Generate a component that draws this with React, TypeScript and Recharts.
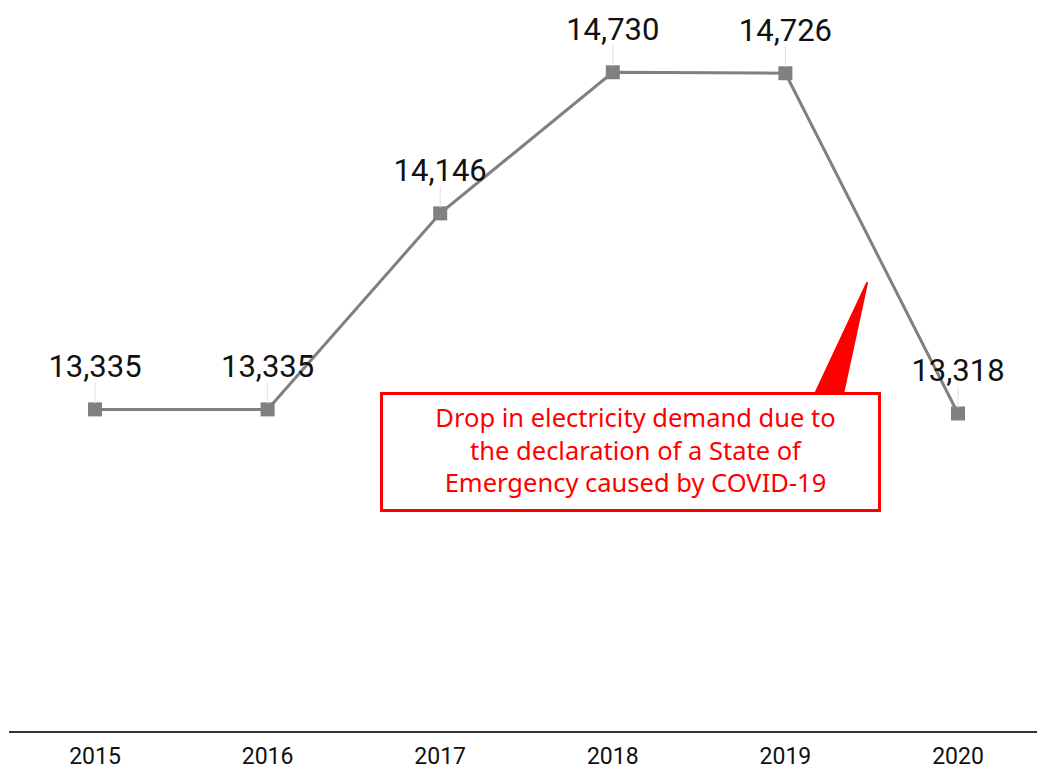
import { LineChart, Line, XAxis, YAxis, LabelList } from "recharts";

const years = ["2015", "2016", "2017", "2018", "2019", "2020"];
const demand = [13335, 13335, 14146, 14730, 14726, 13318];
const yDomain: [number, number] = [12000, 15000];
const noteLines = [
  "Drop in electricity demand due to",
  "the declaration of a State of",
  "Emergency caused by COVID-19",
];

const data = years.map((year, i) => ({ year, value: demand[i] }));

const LINE_GREY = "#808080";

function SquareDot(props: any) {
  const { cx, cy } = props;
  if (cx == null || cy == null) return null;
  return <rect x={cx - 7} y={cy - 7} width={14} height={14} fill={LINE_GREY} />;
}

function ValueLabel(props: any) {
  const { x, y, value } = props;
  if (x == null || y == null) return null;
  return (
    <g>
      <line x1={x} x2={x} y1={y - 27} y2={y - 6} stroke="#e2e2e2" strokeWidth={1} />
      <text
        x={x}
        y={y - 32}
        textAnchor="middle"
        fontFamily="Roboto"
        fontSize={31}
        fill="#111"
      >
        {Number(value).toLocaleString("en-US")}
      </text>
    </g>
  );
}

function YearTick(props: any) {
  const { x, y, payload } = props;
  return (
    <text x={x} y={y + 24} textAnchor="middle" fontFamily="Roboto" fontSize={23} fill="#111">
      {payload.value}
    </text>
  );
}

export default function App() {
  return (
    <div
      style={{
        position: "absolute",
        left: 0,
        top: 0,
        width: 1037,
        height: 770,
        overflow: "hidden",
        background: "#fff",
      }}
    >
      <LineChart
        width={1044}
        height={770}
        data={data}
        margin={{ top: 7, right: 0, bottom: 0, left: 9 }}
      >
        <XAxis
          dataKey="year"
          height={38}
          axisLine={{ stroke: "#333", strokeWidth: 2 }}
          tickLine={false}
          tick={<YearTick />}
          interval={0}
          padding={{ left: 86, right: 86 }}
        />
        <YAxis hide domain={yDomain} />
        <Line
          type="linear"
          dataKey="value"
          stroke={LINE_GREY}
          strokeWidth={3}
          dot={<SquareDot />}
          activeDot={false}
          isAnimationActive={false}
        >
          <LabelList dataKey="value" content={<ValueLabel />} />
        </Line>
      </LineChart>

      <svg
        width={1037}
        height={770}
        style={{ position: "absolute", left: 0, top: 0, pointerEvents: "none" }}
      >
        <polygon points="815,394 843,394 867,283" fill="#ff0000" stroke="#ff0000" strokeLinejoin="round" strokeWidth={2} />
      </svg>
      <div
        style={{
          position: "absolute",
          left: 380,
          top: 392,
          width: 495,
          height: 108,
          border: "3px solid #ff0000",
          background: "#fff",
          color: "#ff0000",
          fontFamily: "'Noto Sans'",
          fontSize: 25.5,
          lineHeight: "32.5px",
          textAlign: "center",
          paddingTop: 6,
          boxSizing: "content-box",
        }}
      >
        {noteLines.map((l) => (
          <div key={l} style={{ paddingLeft: 10 }}>{l}</div>
        ))}
      </div>
    </div>
  );
}
